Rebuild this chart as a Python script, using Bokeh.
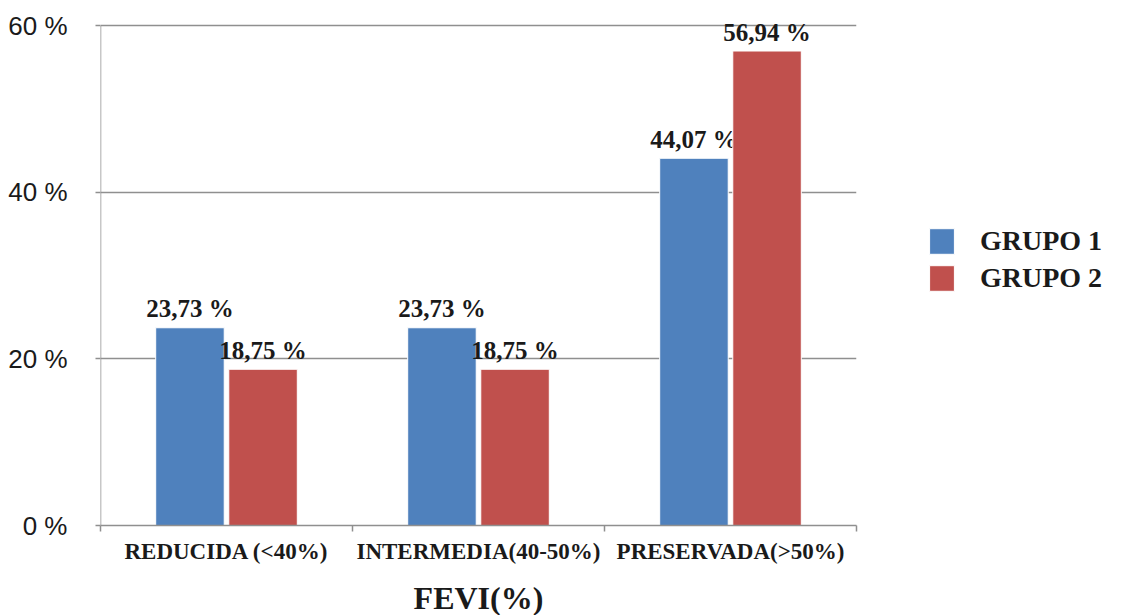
from bokeh.plotting import figure
from bokeh.models import Range1d, FixedTicker, Legend, LegendItem, ColumnDataSource
from bokeh.core.properties import value
from bokeh.embed import file_html
from bokeh.resources import INLINE

# FEVI categories and percentage of patients in each group
categories = ["REDUCIDA (<40%)", "INTERMEDIA(40-50%)", "PRESERVADA(>50%)"]
grupo1 = [23.73, 23.73, 44.07]
grupo2 = [18.75, 18.75, 56.94]
series_names = ["GRUPO 1", "GRUPO 2"]
y_ticks = [0, 20, 40, 60]
y_tick_labels = ["0 %", "20 %", "40 %", "60 %"]

colors = ["#4F81BD", "#C0504D"]
offsets = [-0.145, 0.145]
bar_width = 0.272
grid_gray = "#8f8f8f"
serif = "Liberation Serif"
headroom = 3  # extra room above the top gridline for the value labels

n = len(categories)
centers = [i + 0.5 for i in range(n)]
y_top = y_ticks[-1] + headroom

p = figure(
    frame_width=756, frame_height=round(500 * y_top / y_ticks[-1]),
    x_range=Range1d(0, n), y_range=Range1d(0, y_top),
    output_backend="svg", toolbar_location=None,
    min_border_left=100, min_border_right=0,
    min_border_top=0, min_border_bottom=90,
)
p.outline_line_color = None
p.background_fill_color = "white"
p.border_fill_color = "white"

# horizontal gridlines only
p.xgrid.grid_line_color = None
p.ygrid.ticker = FixedTicker(ticks=y_ticks)
p.ygrid.grid_line_color = grid_gray
p.ygrid.grid_line_width = 1.5

# value axis (its line is drawn below so it stops at the top tick)
p.yaxis.ticker = FixedTicker(ticks=y_ticks)
p.yaxis.major_label_overrides = {t: lab for t, lab in zip(y_ticks, y_tick_labels)}
p.yaxis.axis_line_color = None
p.yaxis.major_tick_line_color = grid_gray
p.yaxis.major_tick_line_width = 1.5
p.yaxis.major_tick_in = 0
p.yaxis.major_tick_out = 5
p.yaxis.minor_tick_line_color = None
p.yaxis.major_label_text_font = "Liberation Sans"
p.yaxis.major_label_text_font_size = "26px"
p.yaxis.major_label_text_color = "#1a1a1a"
p.yaxis.major_label_standoff = 28
p.segment(x0=[0], y0=[y_ticks[0]], x1=[0], y1=[y_ticks[-1]],
          line_color=grid_gray, line_width=1.5)

# category axis: labels at the centres, tick marks at the boundaries
p.xaxis.ticker = FixedTicker(ticks=centers, minor_ticks=list(range(n + 1)))
p.xaxis.major_label_overrides = {c: cat for c, cat in zip(centers, categories)}
p.xaxis.axis_line_color = grid_gray
p.xaxis.axis_line_width = 1.5
p.xaxis.major_tick_line_color = None
p.xaxis.minor_tick_line_color = grid_gray
p.xaxis.minor_tick_line_width = 1.5
p.xaxis.minor_tick_in = 0
p.xaxis.minor_tick_out = 6
p.xaxis.major_label_text_font = serif
p.xaxis.major_label_text_font_style = "bold"
p.xaxis.major_label_text_font_size = "23px"
p.xaxis.major_label_text_color = "#1a1a1a"
p.xaxis.major_label_standoff = 7
p.xaxis.axis_label = "FEVI(%)"
p.xaxis.axis_label_text_font = serif
p.xaxis.axis_label_text_font_style = "bold"
p.xaxis.axis_label_text_font_size = "32px"
p.xaxis.axis_label_text_color = "#1a1a1a"
p.xaxis.axis_label_standoff = 13

items = []
for vals, name, color, off in zip([grupo1, grupo2], series_names, colors, offsets):
    src = ColumnDataSource(dict(
        x=[c + off for c in centers],
        top=vals,
        label=[f"{v:.2f}".replace(".", ",") + " %" for v in vals],
    ))
    r = p.vbar(x="x", top="top", width=bar_width, source=src,
               fill_color=color, line_color="white", line_width=1)
    p.text(x="x", y="top", text="label", source=src,
           text_font=value(serif), text_font_style="bold",
           text_font_size="25px", text_color="#1a1a1a",
           text_align="center", text_baseline="alphabetic", y_offset=-19)
    items.append(LegendItem(label=name, renderers=[r]))

# legend in the right-hand panel
legend = Legend(
    items=items, location=(70, 231),
    glyph_width=31, glyph_height=32, label_height=32,
    label_standoff=23, spacing=5, padding=0, margin=0,
    border_line_color=None, background_fill_alpha=0,
    label_text_font=serif, label_text_font_style="bold",
    label_text_font_size="28px", label_text_color="#1a1a1a",
)
p.add_layout(legend, "right")

open("out.html", "w").write(file_html(p, INLINE))
